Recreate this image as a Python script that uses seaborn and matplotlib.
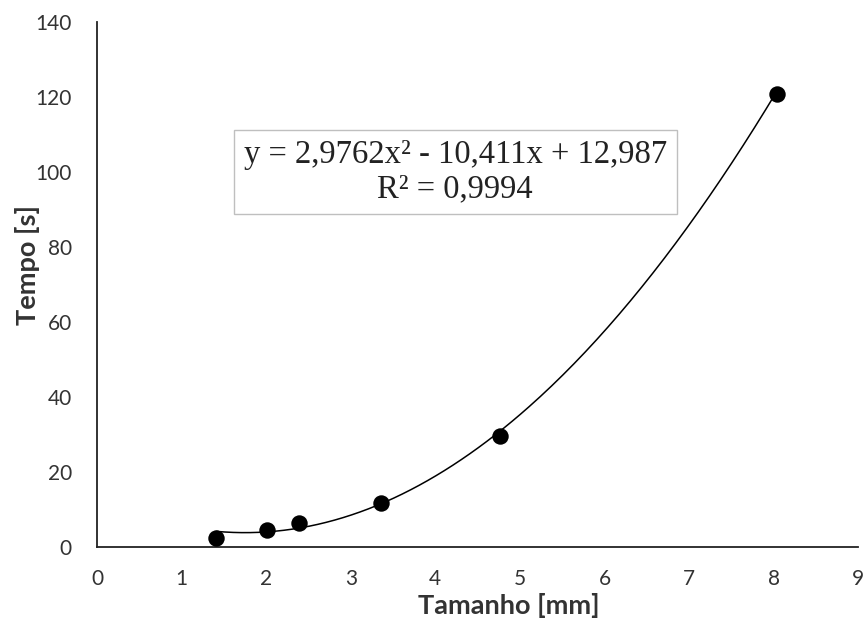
import numpy as np
import pandas as pd
import matplotlib
matplotlib.use("Agg")
import matplotlib.pyplot as plt
import seaborn as sns

# Measured particle size vs. time
tamanho = [1.41, 2.01, 2.39, 3.36, 4.76, 8.04]
tempo = [2.4, 4.5, 6.4, 11.7, 29.6, 120.8]

# Quadratic trendline coefficients (a x^2 + b x + c) and R^2
coef_a, coef_b, coef_c = 2.9762, -10.411, 12.987
r2 = 0.9994

x_ticks = list(range(0, 10))
y_ticks = list(range(0, 141, 20))

sns.set_style("white")
plt.rcParams["font.family"] = ["Lato", "DejaVu Sans"]

fig = plt.figure(figsize=(8.66, 6.19), dpi=100)
ax = fig.add_axes([0.112, 0.116, 0.879, 0.848])

df = pd.DataFrame({"Tamanho": tamanho, "Tempo": tempo})
xs = np.linspace(min(tamanho), max(tamanho), 200)
trend = pd.DataFrame({"Tamanho": xs, "Tempo": coef_a * xs**2 + coef_b * xs + coef_c})

sns.lineplot(data=trend, x="Tamanho", y="Tempo", color="black", linewidth=1.1, ax=ax)
sns.scatterplot(data=df, x="Tamanho", y="Tempo", color="black", s=140,
                edgecolor="black", linewidth=0, ax=ax, zorder=3)

ax.set_xlim(0, 9)
ax.set_ylim(0, 140)
ax.set_xticks(x_ticks)
ax.set_yticks(y_ticks)
ax.tick_params(axis="both", length=0, labelsize=15, labelcolor="#333333")
ax.tick_params(axis="x", pad=16)
ax.tick_params(axis="y", pad=18)

for side in ("top", "right"):
    ax.spines[side].set_visible(False)
for side in ("left", "bottom"):
    ax.spines[side].set_color("#222222")
    ax.spines[side].set_linewidth(1.3)

ax.set_xlabel("")
ax.set_ylabel("")
fig.text(509 / 866, 1 - 605 / 619, "Tamanho [mm]", ha="center", va="center",
         fontsize=19.5, fontweight="bold", color="#333333")
fig.text(28 / 866, 1 - 265 / 619, "Tempo [s]", ha="center", va="center",
         rotation=90, fontsize=19.5, fontweight="bold", color="#333333")

eq = f"y = {coef_a:.4f}x² - {abs(coef_b):.3f}x + {coef_c:.3f}".replace(".", ",")
r2_txt = f"R² = {r2:.4f}".replace(".", ",")
ax.text(4.235, 100.0, eq + "\n" + r2_txt, ha="center", va="center", fontsize=23.5,
        family=["Liberation Serif", "DejaVu Serif"], color="#222222",
        linespacing=1.15,
        bbox=dict(boxstyle="square,pad=0.3", facecolor="white",
                  edgecolor="#bfbfbf", linewidth=1.0))

fig.savefig("out.png", dpi=100, facecolor="white")
